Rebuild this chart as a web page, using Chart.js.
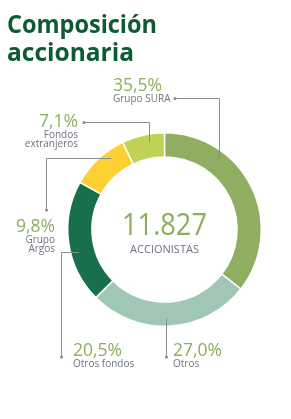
<!DOCTYPE html>
<html>
<head>
<meta charset="utf-8">
<script src="https://cdn.jsdelivr.net/npm/chart.js@4"></script>
<style>
  html, body { margin: 0; padding: 0; background: #fff; }
  #wrap { position: relative; width: 291px; height: 419px; }
</style>
</head>
<body>
<div id="wrap"><canvas id="donut" width="291" height="419"></canvas></div>
<script>
// --- datos ---
const labels = ['Grupo SURA', 'Otros', 'Otros fondos', 'Grupo Argos', 'Fondos extranjeros'];
const values = [35.5, 27.0, 20.5, 9.8, 7.1];
const percentText = ['35,5%', '27,0%', '20,5%', '9,8%', '7,1%'];
const colors = ['#8fae62', '#a0c6b5', '#176f4c', '#fccf33', '#c0d256'];
const totalText = '11.827';
const totalLabel = 'ACCIONISTAS';

const GREEN_TXT = '#8fae5c';
const GRAY_TXT = '#6e7382';
const LINE = '#8c8c8c';
const FONT = '"Open Sans", "Noto Sans", sans-serif';

// etiquetas + líneas guía
const labelPlugin = {
    id: 'labelPlugin',
    afterDraw(chart) {
        const ctx = chart.ctx;
        const arc = chart.getDatasetMeta(0).data[0];
        const cx = arc.x, cy = arc.y;
        const r = arc.outerRadius - 8;

        ctx.save();
        // titulo
        ctx.fillStyle = '#0e5a34';
        ctx.font = 'bold 25px ' + FONT;
        ctx.textAlign = 'left';
        ctx.textBaseline = 'alphabetic';
        ctx.fillText('Composición', 7, 33, 150);
        ctx.fillText('accionaria', 7, 61, 127);

        // centro
        ctx.textAlign = 'center';
        ctx.fillStyle = GREEN_TXT;
        ctx.font = '31px ' + FONT;
        ctx.fillText(totalText, cx, 235, 85);
        ctx.fillStyle = GRAY_TXT;
        ctx.font = '11px ' + FONT;
        ctx.fillText(totalLabel, cx, 253, 76);

        // lineas
        ctx.strokeStyle = LINE;
        ctx.fillStyle = LINE;
        ctx.lineWidth = 1;
        const dot = (x, y) => { ctx.beginPath(); ctx.arc(x, y, 1.6, 0, Math.PI * 2); ctx.fill(); };
        const yTop = x => cy - Math.sqrt(r * r - (x - cx) * (x - cx));
        const yBot = x => cy + Math.sqrt(r * r - (x - cx) * (x - cx));
        const xLeft = y => cx - Math.sqrt(r * r - (y - cy) * (y - cy));
        const path = pts => {
            ctx.beginPath();
            ctx.moveTo(pts[0][0], pts[0][1]);
            pts.slice(1).forEach(p => ctx.lineTo(p[0], p[1]));
            ctx.stroke();
            dot(pts[0][0], pts[0][1]);
        };
        path([[175, 98.5], [219.5, 98.5], [219.5, yTop(219.5)]]);   // SURA
        path([[166.5, 357], [166.5, yBot(166.5)]]);                  // Otros
        path([[61.5, 357], [61.5, 252.5], [xLeft(252.5), 252.5]]);   // Otros fondos
        path([[46.5, 210], [46.5, 158.5], [xLeft(158.5), 158.5]]);   // Grupo Argos
        path([[84, 122.5], [149.5, 122.5], [149.5, yTop(149.5)]]);   // Fondos extranjeros

        // textos
        const put = (pct, lines, x, y, align) => {
            ctx.textAlign = align;
            ctx.fillStyle = GREEN_TXT;
            ctx.font = '17.5px ' + FONT;
            ctx.fillText(pct, x, y);
            ctx.fillStyle = GRAY_TXT;
            ctx.font = '10px ' + FONT;
            lines.forEach((t, i) => ctx.fillText(t, x, y + 11 + i * 8.5));
        };
        put(percentText[0], ['Grupo SURA'], 113, 91, 'left');
        put(percentText[1], ['Otros'], 173, 356, 'left');
        put(percentText[2], ['Otros fondos'], 73, 356, 'left');
        put(percentText[3], ['Grupo', 'Argos'], 55, 232, 'right');
        put(percentText[4], ['Fondos', 'extranjeros'], 78, 127, 'right');
        ctx.restore();
    }
};

new Chart(document.getElementById('donut'), {
    type: 'doughnut',
    data: {
        labels: labels,
        datasets: [{
            data: values,
            backgroundColor: colors,
            borderColor: '#ffffff',
            borderWidth: 1.5,
            hoverOffset: 0
        }]
    },
    options: {
        responsive: false,
        animation: false,
        cutout: '75%',
        layout: { padding: { left: 67, right: 29, top: 132, bottom: 92 } },
        plugins: {
            legend: { display: false },
            tooltip: { enabled: false }
        }
    },
    plugins: [labelPlugin]
});
</script>
</body>
</html>
